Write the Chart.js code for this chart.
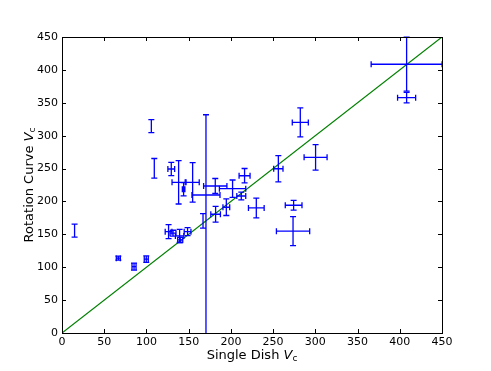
<!DOCTYPE html>
<html><head><meta charset="utf-8">
<script src="https://cdn.jsdelivr.net/npm/chart.js@4/dist/chart.umd.min.js"></script>
<style>html,body{margin:0;padding:0;background:#fff;}canvas{display:block;}</style>
</head><body>
<canvas id="c" width="491" height="371"></canvas>
<script>
// Single dish rotation velocity (x) and rotation-curve velocity (y), with errors
const singleDish    = [14.9, 66.7, 85.3, 99.8, 105.8, 109.3, 129.4, 138.1, 154.7, 144.0, 126.2, 131.5, 139.3, 140.0, 148.7, 167.0, 170.5, 181.5, 202.0, 216.2, 212.3, 194.6, 181.9, 230.1, 256.2, 282.2, 300.3, 274.3, 273.6, 408.1, 408.1];
const rotationCurve = [155.7, 113.8, 101.0, 112.3, 314.5, 250.3, 249.3, 229.1, 229.1, 218.5, 154.1, 151.7, 147.6, 141.6, 154.1, 170.4, 209.8, 223.5, 219.4, 239.1, 208.3, 191.2, 180.5, 190.1, 249.7, 320.1, 267.0, 194.2, 154.8, 408.6, 357.8];
const singleDishErr = [0, 2.4, 2.4, 2.4, 0, 0, 4, 7.8, 7.8, 1.5, 4, 3.5, 5, 3, 4, 0, 16.6, 13.8, 15.6, 6.5, 5.3, 4, 5.7, 9.3, 5.5, 9.5, 13.6, 9.9, 19.7, 42, 10.7];
const rotationErrLow  = [9.9, 3, 5.3, 5, 10, 15, 10, 33, 30, 10, 10.6, 4.5, 10, 4, 6, 11, 215, 11.4, 13.2, 11, 6, 12.6, 12, 15, 20, 22, 19.4, 7.5, 22, 41, 8];
const rotationErrHigh = [9.9, 3, 5.3, 5, 10, 15, 10, 33, 30, 10, 10.6, 4.5, 10, 4, 6, 11, 122, 11.4, 13.2, 11, 6, 12.6, 12, 15, 20, 22, 19.4, 7.5, 22, 41, 8];
const oneToOne = [0, 450];
const axisMin = 0, axisMax = 450, axisStep = 50;
const xTitleParts = ['Single Dish ', 'V', 'c'];
const yTitleParts = ['Rotation Curve ', 'V', 'c'];

const FONT = "'DejaVu Sans', sans-serif";

const errorBarPlugin = {
  id: 'errorBars',
  afterDatasetsDraw(chart) {
    const ctx = chart.ctx, xs = chart.scales.x, ys = chart.scales.y, a = chart.chartArea;
    const cap = 3;
    ctx.save();
    ctx.beginPath(); ctx.rect(a.left - 1, a.top - 1, a.right - a.left + 2, a.bottom - a.top + 2); ctx.clip();
    ctx.strokeStyle = '#0000ff'; ctx.lineWidth = 1.3;
    for (let i = 0; i < singleDish.length; i++) {
      const cx = xs.getPixelForValue(singleDish[i]);
      const cy = ys.getPixelForValue(rotationCurve[i]);
      const xl = xs.getPixelForValue(singleDish[i] - singleDishErr[i]);
      const xr = xs.getPixelForValue(singleDish[i] + singleDishErr[i]);
      const yb = ys.getPixelForValue(rotationCurve[i] - rotationErrLow[i]);
      const yt = ys.getPixelForValue(rotationCurve[i] + rotationErrHigh[i]);
      ctx.beginPath();
      if (singleDishErr[i] > 0) {
        ctx.moveTo(xl, cy); ctx.lineTo(xr, cy);
        ctx.moveTo(xl, cy - cap); ctx.lineTo(xl, cy + cap);
        ctx.moveTo(xr, cy - cap); ctx.lineTo(xr, cy + cap);
      }
      if (rotationErrLow[i] > 0 || rotationErrHigh[i] > 0) {
        ctx.moveTo(cx, yb); ctx.lineTo(cx, yt);
        ctx.moveTo(cx - cap, yb); ctx.lineTo(cx + cap, yb);
        ctx.moveTo(cx - cap, yt); ctx.lineTo(cx + cap, yt);
      }
      ctx.stroke();
    }
    ctx.restore();
  }
};

const framePlugin = {
  id: 'frame',
  afterDraw(chart) {
    const ctx = chart.ctx, xs = chart.scales.x, ys = chart.scales.y, a = chart.chartArea;
    ctx.save();
    ctx.strokeStyle = '#000'; ctx.lineWidth = 1;
    ctx.strokeRect(Math.round(a.left) + 0.5, Math.round(a.top) + 0.5, Math.round(a.right - a.left), Math.round(a.bottom - a.top));
    const tl = 4;
    ctx.beginPath();
    for (let v = axisMin; v <= axisMax; v += axisStep) {
      const px = Math.round(xs.getPixelForValue(v)) + 0.5;
      ctx.moveTo(px, a.bottom); ctx.lineTo(px, a.bottom - tl);
      ctx.moveTo(px, a.top); ctx.lineTo(px, a.top + tl);
      const py = Math.round(ys.getPixelForValue(v)) + 0.5;
      ctx.moveTo(a.left, py); ctx.lineTo(a.left + tl, py);
      ctx.moveTo(a.right, py); ctx.lineTo(a.right - tl, py);
    }
    ctx.stroke();
    // axis titles
    ctx.fillStyle = '#000';
    ctx.textBaseline = 'alphabetic';
    function drawTitle(parts, cx, cy) {
      const f1 = '13px ' + FONT, f2 = 'italic 13px ' + FONT, f3 = '9px ' + FONT;
      ctx.font = f1; const w1 = ctx.measureText(parts[0]).width;
      ctx.font = f2; const w2 = ctx.measureText(parts[1]).width;
      ctx.font = f3; const w3 = ctx.measureText(parts[2]).width;
      let x = cx - (w1 + w2 + w3) / 2;
      ctx.textAlign = 'left';
      ctx.font = f1; ctx.fillText(parts[0], x, cy); x += w1;
      ctx.font = f2; ctx.fillText(parts[1], x, cy); x += w2;
      ctx.font = f3; ctx.fillText(parts[2], x, cy + 2);
    }
    drawTitle(xTitleParts, (a.left + a.right) / 2, 359);
    ctx.save();
    ctx.translate(33, (a.top + a.bottom) / 2);
    ctx.rotate(-Math.PI / 2);
    drawTitle(yTitleParts, 0, 0);
    ctx.restore();
    ctx.restore();
  }
};

const points = singleDish.map((x, i) => ({ x, y: rotationCurve[i] }));

new Chart(document.getElementById('c'), {
  type: 'scatter',
  data: {
    datasets: [
      { data: points, pointRadius: 0, pointHoverRadius: 0, showLine: false, borderColor: '#0000ff' },
      { type: 'line', data: oneToOne.map(v => ({ x: v, y: v })), borderColor: '#008000', borderWidth: 1.2, pointRadius: 0, fill: false }
    ]
  },
  options: {
    responsive: false, animation: false, devicePixelRatio: 1,
    layout: { padding: { top: 37, right: 49, left: 0, bottom: 0 } },
    plugins: { legend: { display: false }, tooltip: { enabled: false } },
    scales: {
      x: {
        type: 'linear', min: axisMin, max: axisMax,
        grid: { display: false, drawTicks: false }, border: { display: false },
        ticks: { stepSize: axisStep, color: '#000', font: { family: FONT, size: 11 }, padding: 3, maxRotation: 0 },
        afterFit(s) { s.height = 38; }
      },
      y: {
        type: 'linear', min: axisMin, max: axisMax,
        grid: { display: false, drawTicks: false }, border: { display: false },
        ticks: { stepSize: axisStep, color: '#000', font: { family: FONT, size: 11 }, padding: 4 },
        afterFit(s) { s.width = 62; }
      }
    }
  },
  plugins: [errorBarPlugin, framePlugin]
});
</script>
</body></html>
